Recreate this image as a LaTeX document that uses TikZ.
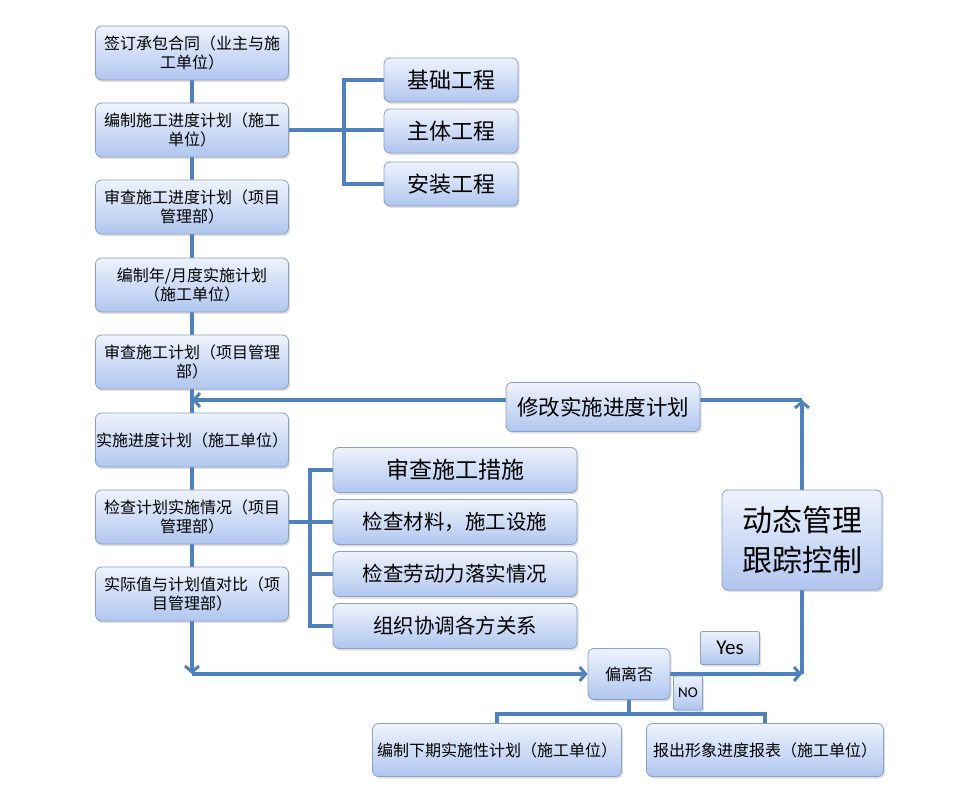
\documentclass[tikz,border=0pt]{standalone}
\usepackage{fontspec}
\setmainfont{Noto Sans CJK SC}
\newfontfamily\latinfont{Carlito}
\usetikzlibrary{positioning,calc,shadows,backgrounds,arrows.meta}
\definecolor{linkblue}{RGB}{79,129,189}
\definecolor{boxedge}{RGB}{140,160,196}
\definecolor{boxtop}{RGB}{238,243,252}
\definecolor{boxbot}{RGB}{176,198,240}

\begin{document}
\begin{tikzpicture}[x=1pt,y=-1pt,
  every node/.style={font=\fontsize{16}{19.5}\selectfont},
  panel/.style={draw=boxedge,line width=0.8pt,rounded corners=6pt,
    top color=boxtop,bottom color=boxbot,align=center,inner sep=0.5pt,
    drop shadow={opacity=0.25,shadow xshift=1.5pt,shadow yshift=-2pt}},
  stagebox/.style={panel,minimum width=193pt,minimum height=54pt},
  partbox/.style={panel,minimum width=134pt,minimum height=44pt,font=\fontsize{22}{24}\selectfont},
  checkbox/.style={panel,minimum width=244pt,minimum height=45pt,font=\fontsize{20.5}{24}\selectfont},
  tagbox/.style={panel,rounded corners=1.5pt},
  link/.style={draw=linkblue,line width=3.4pt},
  arr/.style={link,-{Straight Barb[length=6pt,width=14pt,line width=3pt]}}]
  \useasboundingbox (0,0) rectangle (953,799);

  % main column
  \node[stagebox] (sign) at (192,53) {签订承包合同（业主与施\\工单位）};
  \node[stagebox] (draft) at (192,130) {编制施工进度计划（施工\\单位）};
  \node[stagebox] (review) at (192,207) {审查施工进度计划（项目\\管理部）};
  \node[stagebox] (monthly) at (192,285) {编制年/月度实施计划\\（施工单位）};
  \node[stagebox] (approve) at (192,362) {审查施工计划（项目管理\\部）};
  \node[stagebox] (execute) at (192,440) {实施进度计划（施工单位）};
  \node[stagebox] (inspect) at (192,517) {检查计划实施情况（项目\\管理部）};
  \node[stagebox] (compare) at (192,594) {实际值与计划值对比（项\\目管理部）};

  % works of the schedule
  \node[partbox] (found) at (451,80) {基础工程};
  \node[partbox] (body) at (451,131) {主体工程};
  \node[partbox] (install) at (451,184) {安装工程};

  % checks
  \node[checkbox,font=\fontsize{23}{26}\selectfont] (measures) at (455,470) {审查施工措施};
  \node[checkbox] (material) at (455,522) {检查材料，施工设施};
  \node[checkbox] (labour) at (455,574) {检查劳动力落实情况};
  \node[checkbox] (coord) at (455,626) {组织协调各方关系};

  % feedback loop
  \node[panel,minimum width=194pt,minimum height=49pt,font=\fontsize{21.5}{24}\selectfont] (revise) at (603,407) {修改实施进度计划};
  \node[panel,minimum width=160pt,minimum height=100pt,font=\fontsize{30}{40}\selectfont] (track) at (802,540) {动态管理\\跟踪控制};
  \node[panel,minimum width=82pt,minimum height=51pt] (deviate) at (629,674) {偏离否};
  \node[tagbox,minimum width=59pt,minimum height=33pt,font=\latinfont\fontsize{21}{24}\selectfont] (yes) at (730,648) {Yes};
  \node[tagbox,minimum width=29pt,minimum height=34pt,font=\latinfont\fontsize{15}{18}\selectfont] (no) at (688,693) {NO};

  % outputs
  \node[panel,minimum width=249pt,minimum height=53pt] (nextplan) at (497,750) {编制下期实施性计划（施工单位）};
  \node[panel,minimum width=237pt,minimum height=53pt] (report) at (765,750) {报出形象进度报表（施工单位）};

  \coordinate (splitA) at (344,130);
  \coordinate (splitB) at (310,522);
  \coordinate (loopL) at (192,400);
  \coordinate (loopR) at (802,400);
  \coordinate (bendL) at (192,674);
  \coordinate (bendR) at (802,674);
  \coordinate (fork) at (629,714);

  \begin{scope}[on background layer]
    \draw[link] (sign) -- (draft);
    \draw[link] (draft) -- (review);
    \draw[link] (review) -- (monthly);
    \draw[link] (monthly) -- (approve);
    \draw[link] (approve) -- (execute);
    \draw[link] (execute) -- (inspect);
    \draw[link] (inspect) -- (compare);
    \draw[link] (draft.east) -- (draft.east -| body.west);
    \draw[link] (found.west) -| (splitA) |- (install.west);
    \draw[link] (inspect.east |- splitB) -- (material.west);
    \draw[link] (measures.west) -| (splitB) |- (coord.west);
    \draw[link] (splitB) |- (labour.west);
    \draw[arr] (revise.west |- loopL) -- (loopL);
    \draw[link] (revise.east |- loopR) -- (loopR);
    \draw[arr] (track.north) -- (loopR);
    \draw[arr] (compare.south) -- (bendL);
    \draw[arr] (bendL) -- (deviate.west);
    \draw[arr] (deviate.east) -- (bendR);
    \draw[link] (bendR) -- (track.south);
    \draw[link] (deviate.south) -- (fork);
    \draw[link] (nextplan.north) |- (fork) -| (report.north);
  \end{scope}
\end{tikzpicture}
\end{document}
